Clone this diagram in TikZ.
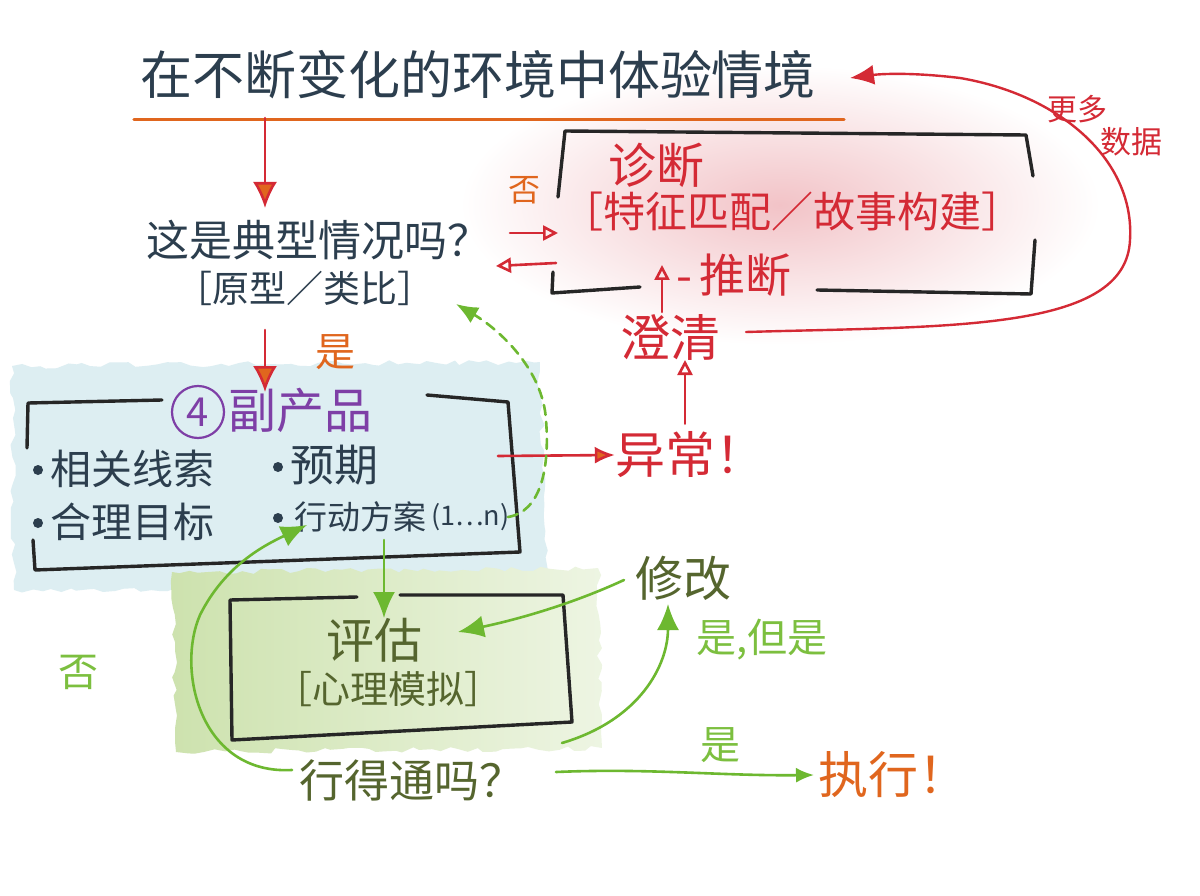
\documentclass[tikz,border=0pt]{standalone}
\usepackage{fontspec}
\setmainfont{Noto Sans CJK SC}
\usetikzlibrary{arrows.meta,decorations.pathmorphing,calc}
\definecolor{navy}{HTML}{2C3E4E}
\definecolor{rd}{HTML}{D42A35}
\definecolor{org}{HTML}{E0661E}
\definecolor{olive}{HTML}{55652E}
\definecolor{lg}{HTML}{6DB830}
\definecolor{lgt}{HTML}{7CBF3F}
\definecolor{purp}{HTML}{7E3FA6}
\definecolor{pinkw}{HTML}{F2C3C7}
\definecolor{bluew}{HTML}{DDEEF2}
\definecolor{greenw}{HTML}{CDE2AE}
\newcommand\myfs[1]{\fontsize{#1}{#1}\selectfont}
\begin{document}
\begin{tikzpicture}[x=1pt,y=-1pt,line cap=round,line join=round,
  txt/.style={inner sep=0pt,anchor=center},
  bx/.style={draw=black!85,line width=3.4pt},
  redarr/.style={draw=rd,line width=2.6pt},
  grnarr/.style={draw=lg,line width=2.6pt},
  fillhead/.style={-{Latex[length=26pt,width=22pt]}},
  openhead/.style={-{Triangle[open,length=15pt,width=15pt]}},
  wash/.style={decorate,decoration={random steps,segment length=9pt,amplitude=3pt}}]
\useasboundingbox (0,0) rectangle (1200,896);
\fill[white] (0,0) rectangle (1200,896);
% washes
\shade[inner color=pinkw,outer color=white] (780,205) ellipse [x radius=320pt,y radius=140pt];
\fill[bluew,wash] (12,366) -- (540,362) -- (546,585) -- (14,590) -- cycle;
\shade[wash,left color=greenw,right color=greenw!35] (172,572) -- (598,568) -- (602,748) -- (176,752) -- cycle;

% title
\node[txt,font={\myfs{52}},text=navy] (title) at (478,75) {在不断变化的环境中体验情境};
\draw[org,line width=3pt] ($(title.south west)+(-6,20)$) coordinate (ul1) -- ($(title.south east)+(28,20)$) coordinate (ul2);

% question
\node[txt,font={\myfs{43}},text=navy] (q) at (318,240) {这是典型情况吗？};
\node[txt,font={\myfs{37}},text=navy] (qb) at (305,288) {［原型／类比］};
\coordinate (a1s) at (265,118);
\coordinate (a1e) at (265,208);
\draw[redarr,-{Latex[length=26pt,width=24pt,fill=org]}] (a1s) -- (a1e);
\coordinate (a2s) at (265,330);
\coordinate (a2e) at (265,392);
\draw[redarr,-{Latex[length=26pt,width=24pt,fill=org]}] (a2s) -- (a2e);
\node[txt,font={\myfs{40}},text=org] (yes1) at (335,352) {是};

% byproduct box
\draw[bx] (162,400) -- (28,403) -- (27,448);
\draw[bx] (427,395) -- (508,402) -- (520,552) -- (35,570) -- (33,540);
\node[circle,draw=purp,line width=2.2pt,minimum size=52pt,inner sep=0pt,text=purp,font={\myfs{40}}] (c4) at (198,412) {4};
\node[txt,font={\myfs{48}},text=purp,anchor=west] (byp) at (228,410) {副产品};
\node[txt,font={\myfs{41}},text=navy,anchor=west] (cue) at (50,469) {相关线索};
\node[txt,font={\myfs{41}},text=navy,anchor=west] (goal) at (50,522) {合理目标};
\node[txt,font={\myfs{44}},text=navy,anchor=west] (exp) at (290,465) {预期};
\node[txt,font={\myfs{33}},text=navy,anchor=west] (act) at (294,517) {行动方案};
\node[txt,font={\myfs{27}},text=navy,anchor=west] (actn) at (act.east) {\,(1…n)};
\fill[navy] (38,470) circle (5pt) (38,523) circle (5pt) (278,467) circle (5pt) (278,518) circle (5pt);

% diagnosis box
\draw[bx] (558,197) -- (565,131) -- (1026,135) -- (1033,176);
\draw[bx] (1035,240) -- (1031,294) -- (817,290);
\draw[bx] (553,272) -- (552,293) -- (640,287);
\node[txt,font={\myfs{48}},text=rd] (diag) at (656,165) {诊断};
\node[txt,font={\myfs{42}},text=rd] (diagb) at (792,212) {［特征匹配／故事构建］};
\node[txt,font={\myfs{32}},text=org] (no1) at (524,190) {否};
\coordinate (n1s) at (510,233);
\coordinate (n1e) at (558,233);
\draw[redarr,openhead] (n1s) -- (n1e);
\coordinate (n2s) at (556,263);
\coordinate (n2e) at (496,266);
\draw[redarr,openhead] (n2s) -- (n2e);
\node[txt,font={\myfs{46}},text=rd,anchor=west] (inf) at (676,275) {-\,推断};

% anomaly / clarify
\node[txt,font={\myfs{50}},text=rd] (clar) at (670,337) {澄清};
\node[txt,font={\myfs{50}},text=rd] (anom) at (690,455) {异常！};
\coordinate (an1) at (498,456);
\draw[redarr,-{Latex[length=20pt,width=17pt,fill=org]}] (an1) -- (anom.west);
\draw[redarr,openhead] (anom.north -| 685,0) ++(0,-8) coordinate (an2) -- (685,360) coordinate (cl1);
\coordinate (in1) at (662,312);
\coordinate (in2) at (662,265);
\draw[redarr,openhead] (in1) -- (in2);
\coordinate (cl2) at (746,332);
\coordinate (tt) at (850,78);
\draw[rd,line width=2.4pt,-{Latex[length=24pt,width=20pt]}] (cl2) .. controls (950,326) and (1126,332) .. (1130,240) .. controls (1135,160) and (1060,95) .. (960,78) .. controls (910,72) and (880,74) .. (tt);
\node[txt,font={\myfs{30}},text=rd] (more) at (1077,109) {更多};
\node[txt,font={\myfs{31}},text=rd] (data) at (1131,142) {数据};

% green dashed
\coordinate (gd1) at (508,517);
\coordinate (gd2) at (456,304);
\draw[lg,line width=2.6pt,dash pattern=on 10pt off 7pt,-{Latex[length=22pt,width=18pt]}] (gd1) .. controls (540,512) and (550,470) .. (546,420) .. controls (543,370) and (500,330) .. (gd2);

% evaluation box
\draw[bx] (357,597) -- (230,600) -- (232,740) -- (572,722) -- (563,595) -- (400,595);
\node[txt,font={\myfs{48}},text=olive] (eval) at (374,640) {评估};
\node[txt,font={\myfs{38}},text=olive] (evalb) at (388,689) {［心理模拟］};
\coordinate (ev1) at (384,540);
\coordinate (ev2) at (384,618);
\draw[grnarr,fillhead] (ev1) -- (ev2);

\node[txt,font={\myfs{48}},text=olive] (mod) at (683,578) {修改};
\coordinate (md1) at (624,580);
\coordinate (md2) at (458,632);
\draw[grnarr,fillhead] (md1) .. controls (570,605) and (515,620) .. (md2);
\node[txt,font={\myfs{40}},text=lgt] (yb) at (762,640) {是,但是};
\node[txt,font={\myfs{40}},text=lgt] (no2) at (78,672) {否};
\node[txt,font={\myfs{45}},text=olive] (work) at (412,780) {行得通吗？};
\node[txt,font={\myfs{40}},text=lgt] (yes2) at (720,745) {是};
\node[txt,font={\myfs{50}},text=org] (exec) at (893,775) {执行！};

\coordinate (w1) at (562,743);
\coordinate (w2) at (668,604);
\draw[grnarr,fillhead] (w1) .. controls (640,720) and (668,665) .. (w2);
\coordinate (w3) at (556,772);
\coordinate (w4) at (814,775);
\draw[grnarr,-{Latex[length=18pt,width=15pt]}] (w3) .. controls (650,768) and (720,776) .. (w4);
\coordinate (w5) at (292,770);
\coordinate (w6) at (307,525);
\draw[grnarr,fillhead] (w5) .. controls (200,775) and (176,670) .. (200,615) .. controls (225,565) and (265,545) .. (w6);
\end{tikzpicture}
\end{document}
